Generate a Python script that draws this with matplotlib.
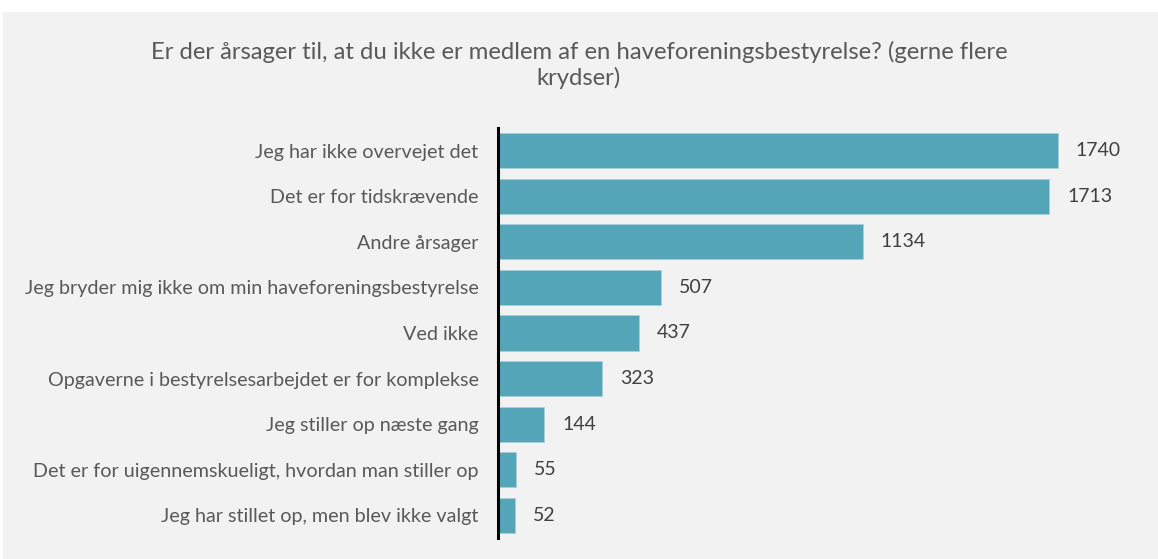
import matplotlib.pyplot as plt
from matplotlib.patches import Rectangle

categories = [
    "Jeg har ikke overvejet det",
    "Det er for tidskrævende",
    "Andre årsager",
    "Jeg bryder mig ikke om min haveforeningsbestyrelse",
    "Ved ikke",
    "Opgaverne i bestyrelsesarbejdet er for komplekse",
    "Jeg stiller op næste gang",
    "Det er for uigennemskueligt, hvordan man stiller op",
    "Jeg har stillet op, men blev ikke valgt",
]
values = [1740, 1713, 1134, 507, 437, 323, 144, 55, 52]
title = "Er der årsager til, at du ikke er medlem af en haveforeningsbestyrelse? (gerne flere\nkrydser)"

plt.rcParams['font.family'] = ['Lato', 'DejaVu Sans']

W, H = 1158, 559
fig = plt.figure(figsize=(W / 100, H / 100), dpi=100, facecolor='white')
fig.patches.append(Rectangle((3 / W, 0), 1, (H - 12) / H, transform=fig.transFigure,
                             facecolor='#f2f2f2', edgecolor='none', zorder=-10))

left, right = 498 / W, 1142 / W
top, bottom = 1 - 127.7 / H, 1 - 538.3 / H
ax = fig.add_axes([left, bottom, right - left, top - bottom])
ax.set_facecolor('none')

y = list(range(len(categories)))
ax.barh(y, values, height=0.77, color='#54a5b8', edgecolor='#a9d0da', linewidth=0.6, zorder=2)
ax.set_ylim(len(categories) - 0.5, -0.5)
ax.set_xlim(0, (1142 - 499) / ((1058 - 499) / 1740))
ax.set_yticks(y)
ax.set_yticklabels(categories, fontsize=14.2, color='#595959')
ax.tick_params(axis='y', length=0, pad=14)
ax.set_xticks([])
for s in ['top', 'right', 'bottom']:
    ax.spines[s].set_visible(False)
ax.spines['left'].set_linewidth(2.2)
ax.spines['left'].set_color('black')
ax.spines['left'].set_zorder(3)

for yi, v in zip(y, values):
    ax.annotate(str(v), (v, yi), xytext=(18, 0), textcoords='offset pixels',
                va='center', ha='left', fontsize=14, color='#404040')

fig.text(0.5, 1 - 65 / H, title, ha='center', va='center', fontsize=17.2,
         color='#595959', linespacing=1.25)

fig.savefig('out.png', dpi=100, facecolor='white')
